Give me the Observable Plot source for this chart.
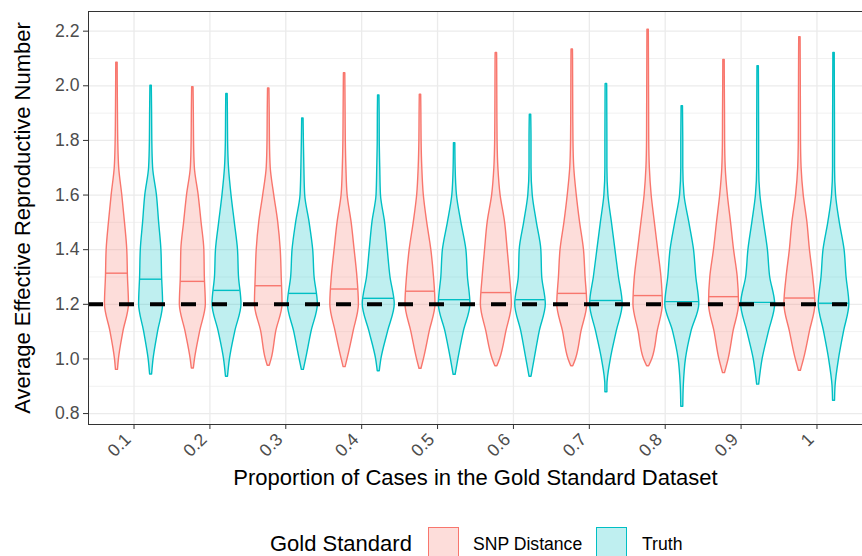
<!DOCTYPE html>
<html><head><meta charset="utf-8">
<script src="https://cdn.jsdelivr.net/npm/d3@7"></script>
<script src="https://cdn.jsdelivr.net/npm/@observablehq/plot@0.6"></script>
<style>
html,body{margin:0;padding:0;background:#fff;overflow:hidden;}
#wrap{position:relative;width:862px;height:556px;font-family:"Liberation Sans",Arial,sans-serif;}
#legend{position:absolute;left:0;top:500px;width:862px;height:56px;}
.lt{position:absolute;white-space:nowrap;color:#000;line-height:1;}
.key{position:absolute;top:27px;width:29px;height:29px;border:1.5px solid;}
</style></head><body>
<div id="wrap"><div id="chart"></div><div id="legend"></div></div>
<script>
// ---- data ----
const categories = ["0.1","0.2","0.3","0.4","0.5","0.6","0.7","0.8","0.9","1"];
const groups = ["SNP Distance", "Truth"];
const colors = ["#F8766D", "#00BFC4"];
const yMajorTicks = [0.8, 1.0, 1.2, 1.4, 1.6, 1.8, 2.0, 2.2];
const yMinorTicks = [0.9, 1.1, 1.3, 1.5, 1.7, 1.9, 2.1];
const referenceLine = [1.2];
const xTitle = "Proportion of Cases in the Gold Standard Dataset";
const yTitle = "Average Effective Reproductive Number";
const legendTitle = "Gold Standard";

// density profile levels (y values) and violin half-widths (density units) at each level
const levels = [0.9, 1.0, 1.1, 1.2, 1.3, 1.4, 1.5, 1.6, 1.7, 1.8, 1.9, 2.0, 2.1];

const snpMin    = [0.960, 0.965, 0.975, 0.970, 0.964, 0.973, 0.973, 0.973, 0.948, 0.957];
const snpMax    = [2.085, 1.995, 1.990, 2.046, 1.967, 2.120, 2.133, 2.205, 2.095, 2.178];
const snpMedian = [1.314, 1.284, 1.268, 1.256, 1.248, 1.243, 1.240, 1.232, 1.228, 1.223];
const snpDensity = [
  [null, 2.0, 6.5, 12.0, 11.0, 10.3, 8.0, 5.3, 2.2, 1.3, 1.0, 0.8, null],
  [null, 2.2, 7.3, 13.0, 12.0, 11.5, 8.7, 5.8, 2.0, 1.2, 1.0, null, null],
  [null, 3.0, 7.5, 13.8, 13.0, 12.0, 9.5, 5.5, 2.0, 1.2, 1.0, null, null],
  [null, 3.0, 9.0, 14.3, 12.8, 10.0, 7.0, 3.0, 1.8, 1.2, 1.0, 0.8, null],
  [null, 3.5, 9.2, 15.0, 13.5, 10.8, 6.7, 3.3, 1.8, 1.1, 0.9, null, null],
  [null, 3.8, 10.0, 15.5, 13.7, 11.3, 8.7, 4.2, 2.0, 1.2, 1.0, 0.9, 0.8],
  [null, 3.8, 9.2, 15.0, 13.3, 11.7, 7.8, 4.5, 2.0, 1.2, 1.0, 0.9, 0.8],
  [null, 4.2, 9.5, 14.7, 13.3, 10.0, 6.7, 3.5, 1.7, 1.1, 1.0, 0.9, 0.8],
  [null, 4.7, 9.5, 15.0, 13.7, 10.0, 7.0, 3.8, 1.7, 1.1, 1.0, 0.8, null],
  [null, 4.2, 10.0, 15.5, 13.3, 10.0, 7.5, 3.8, 1.7, 1.1, 1.0, 0.9, 0.8]
];

const truthMin    = [0.943, 0.935, 0.960, 0.955, 0.942, 0.935, 0.878, 0.825, 0.906, 0.847];
const truthMax    = [2.000, 1.970, 1.880, 1.965, 1.790, 1.894, 2.007, 1.925, 2.072, 2.120];
const truthMedian = [1.292, 1.251, 1.240, 1.222, 1.217, 1.217, 1.214, 1.210, 1.207, 1.204];
const truthDensity = [
  [null, 2.5, 7.0, 12.0, 11.0, 10.3, 8.0, 5.8, 2.0, 1.2, 1.0, null, null],
  [null, 3.0, 8.3, 14.5, 12.0, 11.0, 7.8, 4.5, 2.0, 1.1, 0.9, null, null],
  [null, 3.3, 8.7, 15.0, 11.7, 10.3, 6.7, 2.3, 1.5, 1.0, null, null, null],
  [null, 2.7, 9.3, 16.0, 11.7, 9.0, 6.3, 2.2, 1.5, 1.0, 0.9, null, null],
  [null, 3.8, 9.2, 15.8, 13.3, 11.7, 6.7, 2.3, 1.0, null, null, null, null],
  [null, 4.2, 9.2, 15.3, 11.7, 10.8, 6.3, 2.2, 1.0, 1.0, null, null, null],
  [1.0, 4.5, 10.3, 16.3, 12.5, 9.0, 5.5, 2.0, 1.0, 1.0, 0.9, 0.8, null],
  [1.5, 3.7, 9.2, 17.0, 14.0, 11.7, 7.0, 2.2, 1.0, 1.0, null, null, null],
  [null, 4.5, 10.8, 17.0, 12.0, 9.7, 5.8, 2.2, 1.0, 1.0, 0.9, 0.8, null],
  [1.5, 5.0, 10.0, 15.3, 12.5, 10.5, 5.7, 2.0, 1.0, 1.0, 0.9, 0.8, 0.7]
];

// ---- build table for the library ----
const dodge = [-0.225, 0.225];
const widthScale = 1 / 75.9; // density units -> category units
const series = [
  {min: snpMin, max: snpMax, med: snpMedian, dens: snpDensity},
  {min: truthMin, max: truthMax, med: truthMedian, dens: truthDensity}
];
const violinRows = [];
const medianRows = [];
groups.forEach((g, gi) => {
  const s = series[gi];
  categories.forEach((c, ci) => {
    const center = ci + 1 + dodge[gi];
    const pts = [{y: s.min[ci], w: 1.0}];
    levels.forEach((lv, li) => {
      const w = s.dens[ci][li];
      if (w != null && lv > s.min[ci] && lv < s.max[ci]) pts.push({y: lv, w});
    });
    pts.push({y: s.max[ci], w: 0.7});
    const id = g + "-" + c;
    for (const p of pts) {
      const hw = p.w * widthScale;
      violinRows.push({id, group: g, y: p.y, x1: center - hw, x2: center + hw});
    }
    // median segment: half-width at the median along the profile
    const m = s.med[ci];
    let hw = 0;
    for (let k = 0; k < pts.length - 1; k++) {
      if (m >= pts[k].y && m <= pts[k + 1].y) {
        const t = (m - pts[k].y) / (pts[k + 1].y - pts[k].y);
        hw = (pts[k].w + t * (pts[k + 1].w - pts[k].w)) * widthScale;
      }
    }
    medianRows.push({group: g, y: m, x1: center - hw, x2: center + hw});
  });
});
const xTickIdx = categories.map((c, i) => i + 1);

const chart = Plot.plot({
  width: 862,
  height: 500,
  marginLeft: 88,
  marginRight: 0,
  marginTop: 11,
  marginBottom: 76,
  style: {fontFamily: "'Liberation Sans', Arial, sans-serif", fontSize: "17.6px", background: "white", overflow: "visible"},
  x: {domain: [0.4, 10.6]},
  y: {domain: [0.76, 2.272]},
  color: {domain: groups, range: colors},
  marks: [
    Plot.gridY(yMinorTicks, {stroke: "#EBEBEB", strokeOpacity: 1, strokeWidth: 0.7}),
    Plot.gridY(yMajorTicks, {stroke: "#EBEBEB", strokeOpacity: 1, strokeWidth: 1.3}),
    Plot.gridX(xTickIdx, {stroke: "#EBEBEB", strokeOpacity: 1, strokeWidth: 1.3}),
    Plot.areaX(violinRows, {y: "y", x1: "x1", x2: "x2", z: "id", fill: "group", fillOpacity: 0.25,
      stroke: "group", strokeWidth: 1.4, curve: "monotone-y"}),
    Plot.ruleY(medianRows, {y: "y", x1: "x1", x2: "x2", stroke: "group", strokeWidth: 1.4}),
    Plot.ruleY(referenceLine, {stroke: "black", strokeWidth: 4, strokeDasharray: "15,16"}),
    Plot.frame({stroke: "#333333", strokeWidth: 1}),
    Plot.axisY(yMajorTicks, {tickSize: 5, tickPadding: 4, tickFormat: d3.format(".1f"), fontSize: 17.6,
      stroke: "#333333", fill: "#4D4D4D", label: null}),
    Plot.axisX(xTickIdx, {tickSize: 5, tickFormat: () => "", stroke: "#333333", label: null}),
    Plot.axisX(xTickIdx, {tickSize: 0, tickPadding: 9, tickRotate: -45, tickFormat: i => categories[i - 1],
      dx: -6, dy: 3, fontSize: 17.6, stroke: "none", fill: "#4D4D4D", label: null}),
    Plot.text([yTitle], {text: d => d, frameAnchor: "left", textAnchor: "middle", lineAnchor: "middle",
      dx: -66, rotate: -90, fontSize: 22, fill: "black"}),
    Plot.text([xTitle], {text: d => d, frameAnchor: "bottom", dy: 60, fontSize: 22, fill: "black"})
  ]
});
document.getElementById("chart").appendChild(chart);

// ---- legend (below the svg) ----
const legend = document.getElementById("legend");
function addText(txt, left, top, size) {
  const s = document.createElement("span");
  s.className = "lt"; s.textContent = txt;
  s.style.left = left + "px"; s.style.top = top + "px"; s.style.fontSize = size + "px";
  legend.appendChild(s);
}
addText(legendTitle, 270, 32.5, 22);
const keyLefts = [428, 596];
const textLefts = [473, 642];
groups.forEach((g, i) => {
  const k = document.createElement("div");
  k.className = "key";
  k.style.left = keyLefts[i] + "px";
  k.style.borderColor = colors[i];
  k.style.background = d3.color(colors[i]).copy({opacity: 0.25}).toString();
  legend.appendChild(k);
  addText(g, textLefts[i], 35.5, 17.6);
});
</script>
</body></html>
